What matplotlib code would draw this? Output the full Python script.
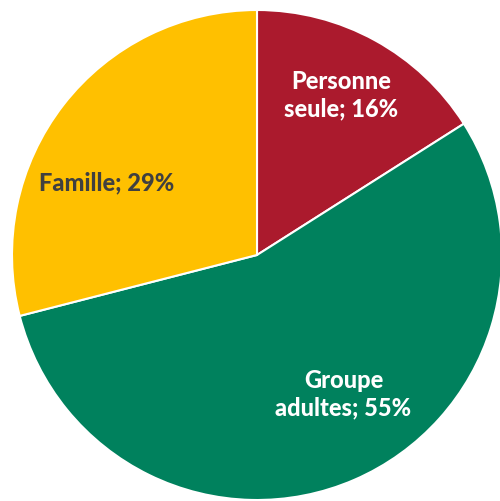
import matplotlib.pyplot as plt

labels = ['Personne\nseule; 16%', 'Groupe\nadultes; 55%', 'Famille; 29%']
values = [16, 55, 29]
colors = ['#AB1A2D', '#00815D', '#FFC000']
text_colors = ['white', 'white', '#404040']
# label centres in data units (pie radius = 1)
label_xy = [(0.345, 0.657), (0.353, -0.563), (-0.612, 0.298)]

fig = plt.figure(figsize=(5, 5.02), dpi=100)
ax = fig.add_axes([12 / 500, 1 / 502, 490 / 500, 490 / 502])

wedges, _ = ax.pie(values, colors=colors, startangle=90, counterclock=False,
                   radius=1.0, wedgeprops=dict(edgecolor='white', linewidth=1.5))

for lab, tc, (x, y) in zip(labels, text_colors, label_xy):
    ax.text(x, y, lab, ha='center', va='center', color=tc, fontsize=17,
            fontweight='black', family=['Lato', 'DejaVu Sans'], linespacing=1.25)

ax.set_xlim(-1, 1)
ax.set_ylim(-1, 1)
ax.axis('off')

plt.savefig('out.png', dpi=100)
